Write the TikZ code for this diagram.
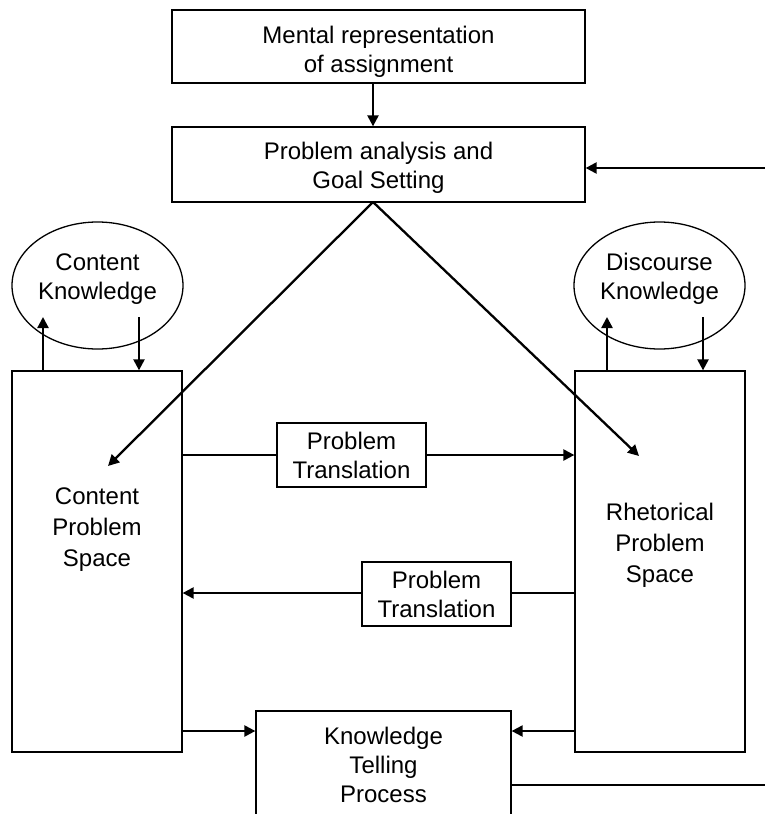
\documentclass[tikz,border=0pt]{standalone}
\usepackage{fontspec}
\setmainfont{Liberation Sans}
\usetikzlibrary{arrows.meta,shapes.geometric}

\tikzset{
  txt/.style={align=center, inner sep=0pt, font=\fontsize{24}{29}\selectfont},
  box/.style={draw, line width=1.3pt, rectangle, inner sep=0pt, txt},
  oval/.style={draw, line width=1.3pt, ellipse, inner sep=0pt,
               minimum width=171pt, minimum height=127pt},
  flow/.style={line width=2.3pt, -{Triangle[length=11pt,width=11pt]}},
  feed/.style={line width=1.2pt}
}

\begin{document}
\begin{tikzpicture}[x=1pt, y=-1pt]
  \useasboundingbox (0,0) rectangle (765,814);
  \clip (0,0) rectangle (765,814);

  % goal-setting chain
  \node[box, minimum width=413pt, minimum height=73pt] (mental) at (378.5,46.5) {};
  \node[txt] (mentalt) at (378.5,52) {Mental representation\\of assignment};
  \node[box, minimum width=413pt, minimum height=75pt] (goal) at (378.5,164.5) {};
  \node[txt] (goalt) at (378.5,168) {Problem analysis and\\Goal Setting};

  % knowledge stores
  \node[oval] (ck) at (97.5,285.5) {};
  \node[txt] (ckt) at (97.5,279) {Content\\Knowledge};
  \node[oval] (dk) at (659.5,285.5) {};
  \node[txt] (dkt) at (659.5,279) {Discourse\\Knowledge};

  % problem spaces
  \node[box, minimum width=170pt, minimum height=381pt] (cps) at (97,561.5) {};
  \node[txt, font=\fontsize{24}{31}\selectfont] (cpst) at (97,530)
    {Content\\Problem\\Space};
  \node[box, minimum width=170pt, minimum height=381pt] (rps) at (660,561.5) {};
  \node[txt, font=\fontsize{24}{31}\selectfont] (rpst) at (660,545)
    {Rhetorical\\Problem\\Space};

  % translation boxes
  \node[box, minimum width=149pt, minimum height=64pt] (pt1) at (351.5,455)
    {Problem\\Translation};
  \node[box, minimum width=149pt, minimum height=64pt] (pt2) at (436.5,594)
    {Problem\\Translation};

  % knowledge telling
  \node[box, minimum width=255pt, minimum height=108pt] (kt) at (383.5,765)
    {Knowledge\\Telling\\Process};

  % free ends and attachment points
  \coordinate (apex) at (373,202);
  \coordinate (ctip) at (108,466);
  \coordinate (rtip) at (639,456);
  \coordinate (back) at (765,168);
  \coordinate (out) at (765,785);
  \coordinate (ckup) at (43,317);
  \coordinate (ckdn) at (139,317);
  \coordinate (dkup) at (607,317);
  \coordinate (dkdn) at (703,317);
  \coordinate (row1) at (0,455);
  \coordinate (row2) at (0,593);
  \coordinate (row3) at (0,731);

  \draw[flow] (mental.south -| apex) -- (goal.north -| apex);
  \draw[flow] (back) -- (back -| goal.east);
  \draw[flow] (apex) -- (ctip);
  \draw[flow] (apex) -- (rtip);

  \draw[flow] (cps.north -| ckup) -- (ckup);
  \draw[flow] (ckdn) -- (cps.north -| ckdn);
  \draw[flow] (rps.north -| dkup) -- (dkup);
  \draw[flow] (dkdn) -- (rps.north -| dkdn);

  \draw[feed] (row1 -| cps.east) -- (row1 -| pt1.west);
  \draw[flow] (row1 -| pt1.east) -- (row1 -| rps.west);
  \draw[feed] (row2 -| rps.west) -- (row2 -| pt2.east);
  \draw[flow] (row2 -| pt2.west) -- (row2 -| cps.east);

  \draw[flow] (row3 -| cps.east) -- (row3 -| kt.west);
  \draw[flow] (row3 -| rps.west) -- (row3 -| kt.east);
  \draw[feed] (out -| kt.east) -- (out);
\end{tikzpicture}
\end{document}
